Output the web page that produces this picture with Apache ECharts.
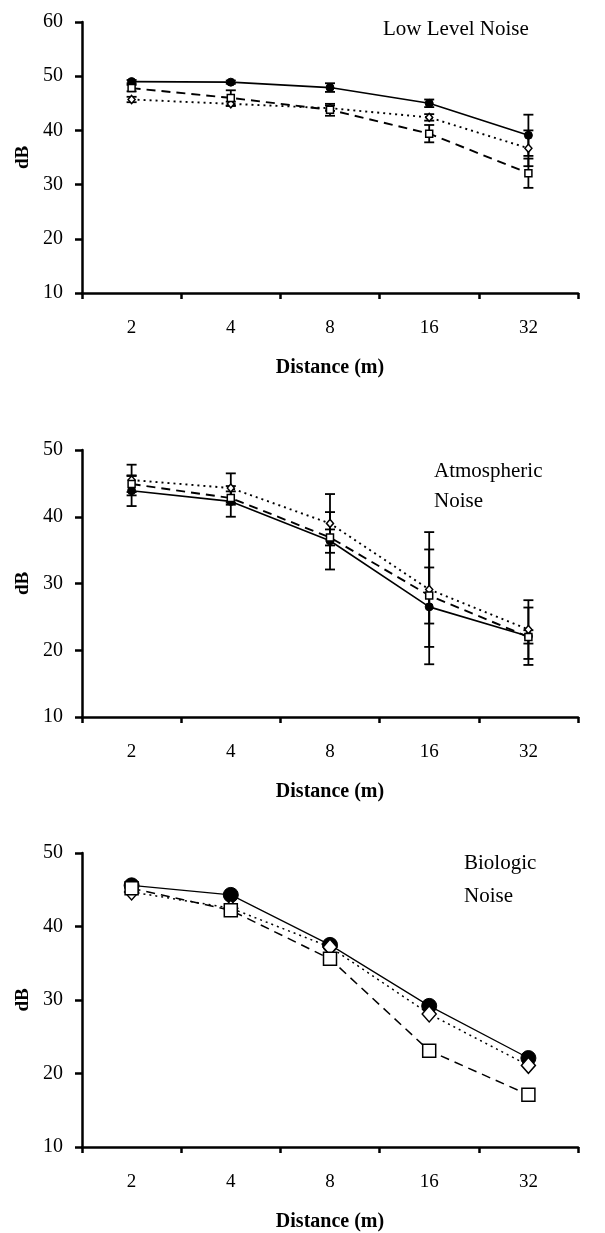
<!DOCTYPE html>
<html><head><meta charset="utf-8">
<script src="https://cdn.jsdelivr.net/npm/echarts@6/dist/echarts.min.js"></script>
<style>html,body{margin:0;padding:0;background:#fff}#c{width:605px;height:1233px}</style>
</head><body><div id="c"></div>
<script>
const categories = ['2', '4', '8', '16', '32'];

// Panel 1: Low Level Noise
const lowSolid = [49.0, 48.9, 47.9, 45.0, 39.1];
const lowSolidErr = [0.3, 0.3, 0.8, 0.7, 3.8];
const lowDiamond = [45.7, 44.9, 44.1, 42.4, 36.7];
const lowDiamondErr = [0.5, 0.4, 0.5, 0.6, 3.3];
const lowSquare = [47.8, 46.0, 43.8, 39.4, 32.1];
const lowSquareErr = [0.6, 1.4, 1.1, 1.6, 2.7];

// Panel 2: Atmospheric Noise
const atmSolid = [43.9, 42.3, 36.4, 26.5, 22.1];
const atmSolidErr = [2.3, 2.3, 4.3, 8.6, 4.3];
const atmDiamond = [45.5, 44.3, 39.0, 29.1, 23.1];
const atmDiamondErr = [2.3, 2.2, 4.4, 8.6, 4.4];
const atmSquare = [44.9, 42.8, 36.9, 28.2, 22.0];
const atmSquareErr = [1.2, 1.0, 1.2, 4.2, 1.0];

// Panel 3: Biologic Noise
const bioSolid = [45.6, 44.3, 37.5, 29.2, 22.1];
const bioDiamond = [44.7, 42.5, 37.2, 28.1, 21.1];
const bioSquare = [45.2, 42.2, 35.6, 23.1, 17.1];

const yMin = [10, 10, 10], yMax = [60, 50, 50];

const FONT = 'Liberation Serif';
const grids = [
  {left: 82, top: 22, width: 496, height: 271},
  {left: 82, top: 450, width: 496, height: 267},
  {left: 82, top: 853, width: 496, height: 294}
];

function xAx(i) {
  return {
    type: 'category', gridIndex: i, data: categories, boundaryGap: true,
    axisLine: {lineStyle: {color: '#000', width: 2.5}},
    axisTick: {show: true, length: 6, inside: false, lineStyle: {color: '#000', width: 2.5}},
    axisLabel: {color: '#000', fontFamily: FONT, fontSize: 19, margin: 26},
    name: 'Distance (m)', nameLocation: 'middle', nameGap: 65,
    nameTextStyle: {color: '#000', fontFamily: FONT, fontSize: 20, fontWeight: 'bold'}
  };
}
function yAx(i) {
  return {
    type: 'value', gridIndex: i, min: yMin[i], max: yMax[i], interval: 10,
    splitLine: {show: false},
    axisLine: {show: true, lineStyle: {color: '#000', width: 2.5}},
    axisTick: {show: true, length: 7, lineStyle: {color: '#000', width: 2.5}},
    axisLabel: {color: '#000', fontFamily: FONT, fontSize: 20, margin: 19},
    name: 'dB', nameLocation: 'middle', nameGap: 48, nameRotate: 90,
    nameTextStyle: {color: '#000', fontFamily: FONT, fontSize: 19, fontWeight: 'bold'}
  };
}

function lineSeries(i, data, kind, big) {
  const base = {
    type: 'line', xAxisIndex: i, yAxisIndex: i, data: data, z: 3,
    showSymbol: true, animation: false
  };
  const lw = big ? 1.2 : 1.6;
  if (kind === 'solid') {
    return Object.assign(base, {
      symbol: 'circle', symbolSize: big ? 15 : 8,
      itemStyle: {color: '#000', borderColor: '#000'},
      lineStyle: {color: '#000', width: lw, type: 'solid'}, z: 4
    });
  } else if (kind === 'diamond') {
    return Object.assign(base, {
      symbol: 'diamond', symbolSize: big ? [14, 16] : [7, 8],
      itemStyle: {color: '#fff', borderColor: '#000', borderWidth: 1.5},
      lineStyle: {color: '#000', width: lw + 0.3, type: [2, 4]}, z: 5
    });
  } else {
    return Object.assign(base, {
      symbol: 'rect', symbolSize: big ? 13 : 7,
      itemStyle: {color: '#fff', borderColor: '#000', borderWidth: 1.5},
      lineStyle: {color: '#000', width: lw + 0.3, type: [9, 6]}, z: 6
    });
  }
}

function errSeries(i, vals, errs) {
  const d = vals.map((v, k) => [k, v - errs[k], v + errs[k]]);
  return {
    type: 'custom', xAxisIndex: i, yAxisIndex: i, data: d, z: 2, animation: false,
    renderItem: function (params, api) {
      const x = api.value(0);
      const lo = api.coord([x, api.value(1)]);
      const hi = api.coord([x, api.value(2)]);
      const w = 5;
      const st = {stroke: '#000', lineWidth: 1.8};
      return {
        type: 'group', children: [
          {type: 'line', shape: {x1: lo[0], y1: lo[1], x2: hi[0], y2: hi[1]}, style: st},
          {type: 'line', shape: {x1: lo[0] - w, y1: lo[1], x2: lo[0] + w, y2: lo[1]}, style: st},
          {type: 'line', shape: {x1: hi[0] - w, y1: hi[1], x2: hi[0] + w, y2: hi[1]}, style: st}
        ]
      };
    },
    encode: {x: 0, y: [1, 2]}
  };
}

const series = [
  errSeries(0, lowSolid, lowSolidErr),
  errSeries(0, lowDiamond, lowDiamondErr),
  errSeries(0, lowSquare, lowSquareErr),
  lineSeries(0, lowSolid, 'solid'),
  lineSeries(0, lowDiamond, 'diamond'),
  lineSeries(0, lowSquare, 'square'),
  errSeries(1, atmSolid, atmSolidErr),
  errSeries(1, atmDiamond, atmDiamondErr),
  errSeries(1, atmSquare, atmSquareErr),
  lineSeries(1, atmSolid, 'solid'),
  lineSeries(1, atmDiamond, 'diamond'),
  lineSeries(1, atmSquare, 'square'),
  lineSeries(2, bioSolid, 'solid', true),
  lineSeries(2, bioDiamond, 'diamond', true),
  lineSeries(2, bioSquare, 'square', true)
];

const tStyle = {color: '#000', fontFamily: FONT, fontSize: 21, fontWeight: 'normal', lineHeight: 30};
const chart = echarts.init(document.getElementById('c'), null, {renderer: 'canvas'});
chart.setOption({
  backgroundColor: '#fff',
  animation: false,
  title: [
    {text: 'Low Level Noise', left: 378, top: 9, textStyle: tStyle},
    {text: 'Atmospheric\nNoise', left: 429, top: 451, textStyle: tStyle},
    {text: 'Biologic\nNoise', left: 459, top: 842, textStyle: Object.assign({}, tStyle, {lineHeight: 33})}
  ],
  grid: grids,
  xAxis: [xAx(0), xAx(1), xAx(2)],
  yAxis: [yAx(0), yAx(1), yAx(2)],
  series: series
});
</script></body></html>
